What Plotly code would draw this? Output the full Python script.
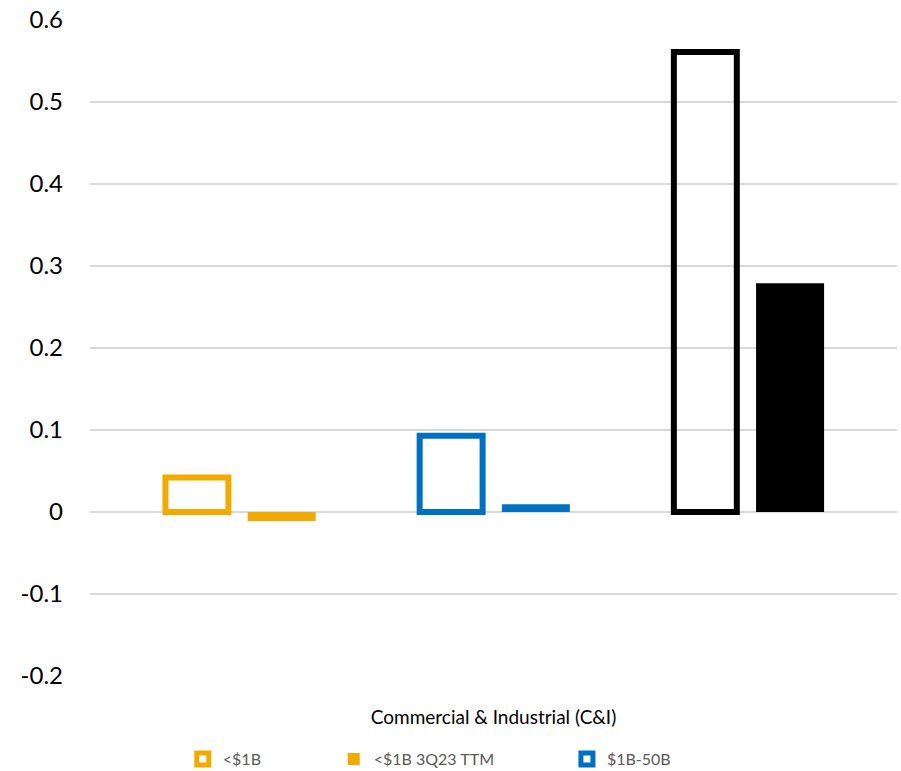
import plotly.graph_objects as go

# Loan-segment values (single category, six series)
category = ["Commercial & Industrial (C&I)"]
series_names = ["<$1B", "<$1B 3Q23 TTM", "$1B-50B", "$1B-50B 3Q23 TTM", ">$50B", ">$50B 3Q23 TTM"]
series_values = [0.042, -0.011, 0.093, 0.0095, 0.561, 0.279]

# Y-axis ticks
tick_vals = [-0.2, -0.1, 0, 0.1, 0.2, 0.3, 0.4, 0.5, 0.6]
tick_labels = ["-0.2", "-0.1", "0", "0.1", "0.2", "0.3", "0.4", "0.5", "0.6"]

# Styling per series
colors = ["#F2AA00", "#F2AA00", "#0070C0", "#0070C0", "#000000", "#000000"]
hollow = [True, False, True, False, True, False]
in_legend = [True, True, True, False, False, False]

FONT = "Lato"
SLOT = 0.105          # width of one bar slot within the category
FILL_W = 0.0843       # filled bar width
HOLLOW_W = 0.078      # outlined bar width (stroke centred on edge)

fig = go.Figure()
legend_ids = ["legend", "legend2", "legend3"]
for i, (name, val) in enumerate(zip(series_names, series_values)):
    # pairs of bars separated by an empty slot: slots 0,1 | 3,4 | 6,7
    slot = i + i // 2
    centre = (slot - 3.5) * SLOT
    w = HOLLOW_W if hollow[i] else FILL_W
    kw = dict(
        x=category,
        y=[val],
        name=name,
        width=w,
        offset=centre - w / 2,
        showlegend=in_legend[i],
        hoverinfo="name+y",
    )
    if in_legend[i]:
        kw["legend"] = legend_ids[i]
    if hollow[i]:
        kw["marker"] = dict(color="rgba(255,255,255,0)", line=dict(color=colors[i], width=6))
    else:
        kw["marker"] = dict(color=colors[i], line=dict(width=0))
    fig.add_trace(go.Bar(**kw))

legend_common = dict(
    orientation="h",
    yanchor="middle",
    xanchor="left",
    y=-0.1265,
    font=dict(family=FONT, size=16, color="#595959"),
    bgcolor="rgba(0,0,0,0)",
    borderwidth=0,
)

fig.update_layout(
    width=901,
    height=771,
    margin=dict(l=90, r=4, t=20, b=95, autoexpand=False),
    plot_bgcolor="white",
    paper_bgcolor="white",
    barmode="overlay",
    font=dict(family=FONT, color="#000000"),
    xaxis=dict(
        type="category",
        range=[-0.5, 0.5],
        showgrid=False,
        showline=False,
        ticks="",
        ticklabelstandoff=28,
        tickfont=dict(family=FONT, size=19, color="#000000"),
        fixedrange=True,
    ),
    yaxis=dict(
        range=[-0.2, 0.6],
        tickvals=tick_vals,
        ticktext=tick_labels,
        showgrid=True,
        gridcolor="#D9D9D9",
        gridwidth=1.5,
        zeroline=True,
        zerolinecolor="#D9D9D9",
        zerolinewidth=1.5,
        showline=False,
        ticks="",
        ticklabelstandoff=26,
        tickfont=dict(family=FONT, size=24, color="#000000"),
    ),
    legend=dict(legend_common, x=0.115),
    legend2=dict(legend_common, x=0.302),
    legend3=dict(legend_common, x=0.591),
)

fig.write_html("out.html")
